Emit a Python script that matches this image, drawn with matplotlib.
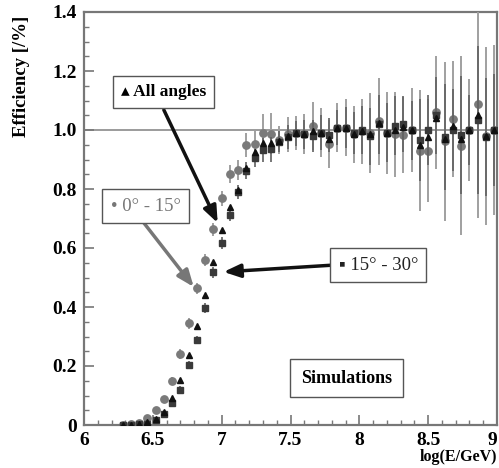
import matplotlib
matplotlib.use("Agg")
import matplotlib.pyplot as plt
from matplotlib.ticker import MultipleLocator, FixedLocator

plt.rcParams["font.family"] = ["Liberation Serif", "DejaVu Sans"]

# bin centres, log10(E/GeV)
log_e = [6.28, 6.34, 6.40, 6.46, 6.52, 6.58, 6.64, 6.70, 6.76, 6.82, 6.88, 6.94,
         7.00, 7.06, 7.12, 7.18, 7.24, 7.30, 7.36, 7.42, 7.48, 7.54, 7.60, 7.66,
         7.72, 7.78, 7.84, 7.90, 7.96, 8.02, 8.08, 8.14, 8.20, 8.26, 8.32, 8.38,
         8.44, 8.50, 8.56, 8.62, 8.68, 8.74, 8.80, 8.86, 8.92, 8.98]

# 0 - 15 deg (circles)
eff_0_15 = [0.0, 0.002, 0.006, 0.025, 0.05, 0.087, 0.150, 0.241, 0.345, 0.463, 0.560, 0.664,
            0.768, 0.850, 0.865, 0.949, 0.952, 0.989, 0.988, 0.965, 0.985, 0.99, 0.985, 1.014,
            0.99, 0.953, 1.008, 1.008, 0.985, 0.995, 0.99, 1.03, 0.99, 0.985, 0.983, 1.0,
            0.929, 0.93, 1.06, 0.962, 1.037, 0.947, 1.0, 1.088, 0.98, 1.0]
err_0_15 = [0.0, 0.003, 0.005, 0.008, 0.01, 0.012, 0.014, 0.016, 0.018, 0.02, 0.02, 0.022,
            0.025, 0.03, 0.035, 0.04, 0.045, 0.065, 0.068, 0.048, 0.059, 0.059, 0.068, 0.081,
            0.083, 0.082, 0.082, 0.096, 0.098, 0.11, 0.136, 0.147, 0.14, 0.143, 0.13, 0.144,
            0.205, 0.175, 0.192, 0.27, 0.198, 0.303, 0.172, 0.387, 0.302, 0.288]

# 15 - 30 deg (squares)
eff_15_30 = [0.0, 0.0, 0.002, 0.005, 0.017, 0.037, 0.073, 0.119, 0.203, 0.288, 0.397, 0.518,
             0.616, 0.712, 0.79, 0.862, 0.904, 0.932, 0.934, 0.96, 0.977, 0.989, 0.985, 0.98,
             0.991, 0.983, 1.008, 1.008, 0.99, 1.0, 0.978, 1.02, 0.99, 1.014, 1.02, 1.0,
             0.966, 1.0, 1.05, 0.977, 1.0, 0.983, 1.0, 1.034, 0.977, 1.0]
err_15_30 = [0.0, 0.0, 0.003, 0.005, 0.007, 0.009, 0.01, 0.012, 0.014, 0.015, 0.016, 0.018,
             0.02, 0.022, 0.025, 0.028, 0.03, 0.04, 0.042, 0.035, 0.04, 0.042, 0.05, 0.055,
             0.06, 0.058, 0.06, 0.07, 0.072, 0.08, 0.095, 0.1, 0.1, 0.1, 0.095, 0.1,
             0.14, 0.12, 0.13, 0.18, 0.14, 0.2, 0.12, 0.25, 0.2, 0.19]

# all angles (triangles)
eff_all = [0.0, 0.001, 0.004, 0.01, 0.022, 0.045, 0.090, 0.153, 0.237, 0.336, 0.441, 0.554,
           0.661, 0.74, 0.797, 0.87, 0.925, 0.955, 0.955, 0.962, 0.98, 0.99, 0.985, 0.995,
           0.99, 0.97, 1.008, 1.008, 0.988, 0.998, 0.985, 1.025, 0.99, 1.0, 1.01, 1.0,
           0.95, 0.975, 1.04, 0.97, 1.015, 0.97, 1.0, 1.05, 0.98, 1.0]

x_ticks = [6, 6.5, 7, 7.5, 8, 8.5, 9]
x_labels = ["6", "6.5", "7", "7.5", "8", "8.5", "9"]
y_ticks = [0, 0.2, 0.4, 0.6, 0.8, 1.0, 1.2, 1.4]
y_labels = ["0", "0.2", "0.4", "0.6", "0.8", "1.0", "1.2", "1.4"]

W, H = 499, 468
fig = plt.figure(figsize=(W / 100, H / 100), dpi=100)
ax = fig.add_axes([84 / W, 43 / H, 413 / W, 413 / H])

ax.axhline(1.0, color="#8a8a8a", lw=1.2, zorder=1)

ax.errorbar(log_e, eff_0_15, yerr=err_0_15, fmt="o", ms=5.3, color="#7a7a7a",
            ecolor="#a0a0a0", elinewidth=1.4, capsize=0, zorder=3)
ax.errorbar(log_e, eff_15_30, yerr=err_15_30, fmt="s", ms=4.8, color="#3a3a3a",
            ecolor="#606060", elinewidth=1.2, capsize=0, zorder=4)
ax.plot(log_e, eff_all, "^", ms=4.2, color="#111111", zorder=5)

ax.set_xlim(6, 9)
ax.set_ylim(0, 1.4)
ax.xaxis.set_major_locator(FixedLocator(x_ticks))
ax.xaxis.set_minor_locator(MultipleLocator(0.1))
ax.yaxis.set_major_locator(FixedLocator(y_ticks))
ax.yaxis.set_minor_locator(MultipleLocator(0.05))
ax.set_xticklabels(x_labels)
ax.set_yticklabels(y_labels)
ax.tick_params(which="both", direction="in", color="#777777", labelsize=14,
               top=False, right=False)
ax.tick_params(which="major", length=7, width=1.2, pad=5)
ax.tick_params(which="minor", length=3.5, width=1)
for lab in ax.get_xticklabels() + ax.get_yticklabels():
    lab.set_fontweight("bold")
# the "9" sits on the right edge of the figure, as in the source
ax.get_xticklabels()[-1].set_horizontalalignment("right")
for sp in ax.spines.values():
    sp.set_color("#777777")
    sp.set_linewidth(1.6)

fig.text(22 / W, 1 - 76 / H, "Efficiency [/%]", rotation=90, ha="center", va="center",
         fontsize=13.5, fontweight="bold")
fig.text(497 / W, 1 - 457 / H, "log(E/GeV)", ha="right", va="center",
         fontsize=11.5, fontweight="bold")

box = dict(boxstyle="square,pad=0.45", fc="white", ec="#555555", lw=1)
arrow_k = dict(arrowstyle="-|>,head_length=1.0,head_width=0.4", color="#111111", lw=2.5,
               shrinkA=0, shrinkB=0)
arrow_g = dict(arrowstyle="-|>,head_length=1.0,head_width=0.4", color="#777777", lw=2.5,
               shrinkA=0, shrinkB=0)

ax.annotate("", xy=(6.971, 0.685), xytext=(6.58, 1.068), arrowprops=arrow_k, zorder=6)
ax.annotate("", xy=(6.797, 0.468), xytext=(6.435, 0.685), arrowprops=arrow_g, zorder=6)
ax.annotate("", xy=(7.014, 0.519), xytext=(7.81, 0.542), arrowprops=arrow_k, zorder=6)

ax.text(6.58, 1.129, "\u25b4 All angles", ha="center", va="center", fontsize=12.5,
        fontweight="bold", bbox=box, zorder=7)
ax.text(6.449, 0.742, "\u2022 0\u00b0 - 15\u00b0", ha="center", va="center", fontsize=13.5,
        color="#777777", bbox=box, zorder=7)
ax.text(8.138, 0.542, "\u25aa 15\u00b0 - 30\u00b0", ha="center", va="center", fontsize=13.5,
        color="#222222", bbox=box, zorder=7)
ax.text(7.906, 0.159, "Simulations", ha="center", va="center", fontsize=13,
        fontweight="bold", bbox=dict(boxstyle="square,pad=0.6", fc="white", ec="#555555", lw=1),
        zorder=7)

fig.savefig("out.png", dpi=100)
